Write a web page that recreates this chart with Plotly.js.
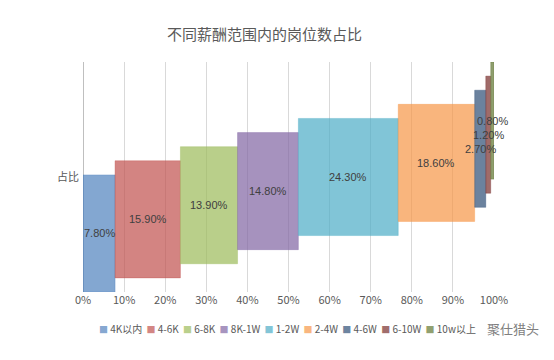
<!DOCTYPE html>
<html>
<head>
<meta charset="utf-8">
<script src="https://cdn.plot.ly/plotly-3.0.1.min.js"></script>
<style>html,body{margin:0;padding:0;background:#fff;}#chart{width:554px;height:360px;}</style>
</head>
<body>
<div id="chart"></div>
<script>
// ---- data ----
const categories = ['4K以内', '4-6K', '6-8K', '8K-1W', '1-2W', '2-4W', '4-6W', '6-10W', '10w以上'];
const shares = [7.8, 15.9, 13.9, 14.8, 24.3, 18.6, 2.7, 1.2, 0.8];
const labels = ['7.80%', '15.90%', '13.90%', '14.80%', '24.30%', '18.60%', '2.70%', '1.20%', '0.80%'];
const rowLabel = ['占比'];
const xTicks = [0, 10, 20, 30, 40, 50, 60, 70, 80, 90, 100];

// ---- styles ----
const baseColors = ['79,129,189', '192,80,77', '155,187,89', '128,100,162', '75,172,198', '247,150,70', '44,77,117', '119,44,42', '95,117,48'];
const font = '"Noto Sans CJK SC", "Noto Sans", sans-serif';
const numFont = '"Liberation Sans", Arial, sans-serif';
const W = 554, H = 360, L = 83, R = 60, T = 62, B = 68;
const pw = W - L - R, ph = H - T - B;
const px2x = p => (p - L) / pw;
const px2y = p => (H - B - p) / ph;

const bases = [];
shares.reduce((acc, v, i) => { bases[i] = acc; return acc + v; }, 0);

const barH = 8.3;
const traces = categories.map((c, i) => ({
  type: 'bar', orientation: 'h', name: c,
  x: [shares[i]], base: [bases[i]], y: [i], width: barH,
  marker: { color: 'rgba(' + baseColors[i] + ',0.7)', line: { color: 'rgba(' + baseColors[i] + ',0.35)', width: 1 } },
  hoverinfo: 'skip', showlegend: false
}));

const annotations = categories.map((c, i) => ({
  x: bases[i] + shares[i] / 2, y: i, xref: 'x', yref: 'y',
  text: labels[i], showarrow: false,
  font: { family: numFont, size: 11, color: '#404040' }
}));

const legendText = categories.map((c, i) =>
  '<span style="color:rgba(' + baseColors[i] + ',0.7);font-size:9px">■</span>\u00a0' + c
).join('\u00a0\u2009');

annotations.push({
  x: px2x(97), y: px2y(328), xref: 'paper', yref: 'paper', xanchor: 'left', yanchor: 'middle',
  text: legendText, showarrow: false,
  font: { family: font, size: 10, color: '#595959' }
});
annotations.push({
  x: px2x(485), y: px2y(328), xref: 'paper', yref: 'paper', xanchor: 'left', yanchor: 'middle',
  text: '聚仕猎头', showarrow: false,
  font: { family: font, size: 13, color: '#7F7F7F' }
});

const layout = {
  width: W, height: H,
  margin: { l: L, r: R, t: T, b: B },
  paper_bgcolor: '#ffffff', plot_bgcolor: '#ffffff',
  barmode: 'overlay',
  showlegend: false,
  title: { text: '不同薪酬范围内的岗位数占比', x: 264.5 / W, xanchor: 'center', xref: 'container', y: 1 - 35 / H, yanchor: 'middle', yref: 'container',
    font: { family: font, size: 15, color: '#595959' } },
  xaxis: {
    range: [0, 100], tickvals: xTicks, ticktext: xTicks.map(v => v + '%'),
    showgrid: true, gridcolor: '#D9D9D9', gridwidth: 1,
    zeroline: true, zerolinecolor: '#BFBFBF', zerolinewidth: 1,
    showline: false, ticks: '',
    tickfont: { family: font, size: 11, color: '#595959' }, fixedrange: true
  },
  yaxis: {
    range: [-barH / 2, 8 + barH / 2], tickvals: [4], ticktext: rowLabel,
    showgrid: false, zeroline: false, showline: false, ticks: '', ticklabelstandoff: 3,
    tickfont: { family: font, size: 11, color: '#595959' }, fixedrange: true
  },
  annotations: annotations
};

Plotly.newPlot('chart', traces, layout, { displayModeBar: false, staticPlot: true });
</script>
</body>
</html>
